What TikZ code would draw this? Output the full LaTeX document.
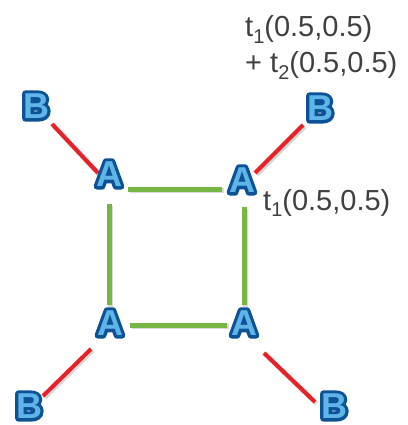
\documentclass[tikz,border=0pt]{standalone}
\usepackage{fontspec}
\setmainfont{Liberation Sans}
\usetikzlibrary{calc,backgrounds}
\definecolor{lblue}{RGB}{95,180,232}
\definecolor{dblue}{RGB}{14,82,150}
\definecolor{myred}{RGB}{232,32,40}
\definecolor{mygreen}{RGB}{118,182,68}
\definecolor{txtgray}{RGB}{64,64,64}
\newcommand{\strokeon}{\special{pdf:literal direct 2 Tr 1 j 6.5 w}}
\newcommand{\strokeoff}{\special{pdf:literal direct 0 Tr}}
\newcommand{\subs}[1]{\raisebox{-0.22em}{\fontsize{20}{20}\selectfont #1}}
\newcommand{\letternode}[3]{%
  \node[outerlet] (#1) at (#2) {\strokeon #3\strokeoff};
  \node[innerlet] (#1f) at (#1) {#3};}
\begin{document}
\begin{tikzpicture}[x=1pt,y=-1pt,
  letter/.style={font=\bfseries\fontsize{36}{36}\selectfont, inner sep=0pt},
  outerlet/.style={letter, text=dblue},
  innerlet/.style={letter, text=lblue},
  gline/.style={draw=mygreen, line width=5pt},
  rline/.style={draw=myred, line width=4pt},
  shad/.style={draw=black, opacity=0.15, line width=5pt, transform canvas={shift={(1.5pt,-1.5pt)}}},
  lbl/.style={font=\fontsize{29}{29}\selectfont, text=txtgray, inner sep=0pt, anchor=base west}]
\path[use as bounding box] (0,0) rectangle (407,425);
\letternode{A1}{109,174}{A}
\letternode{A2}{242,180}{A}
\letternode{A3}{110,323}{A}
\letternode{A4}{244,323}{A}
\letternode{B1}{36,106}{B}
\letternode{B2}{320,108}{B}
\letternode{B3}{29,406}{B}
\letternode{B4}{334,406}{B}
\node[lbl] (T1) at (245,37) {t\subs{1}(0.5,0.5)};
\node[lbl] (T2) at (245,73) {+ t\subs{2}(0.5,0.5)};
\node[lbl] (T3) at (263,210) {t\subs{1}(0.5,0.5)};
\begin{pgfonlayer}{background}
\foreach \s in {shad,gline}{
  \draw[\s] ($(A1)+(19,15)$) -- ($(A2)+(-20,9)$);
  \draw[\s] ($(A1)+(0,30)$) -- ($(A3)+(-1,-18)$);
  \draw[\s] ($(A2)+(2,27)$) -- ($(A4)+(0,-18)$);
  \draw[\s] ($(A3)+(20,2)$) -- ($(A4)+(-17,2)$);
}
\foreach \s in {shad,rline}{
  \draw[\s] ($(B1)+(16,18)$) -- ($(A1)+(-11,-1)$);
  \draw[\s] ($(B2)+(-17,17)$) -- ($(A2)+(13,-7)$);
  \draw[\s] ($(A3)+(-19,26)$) -- ($(B3)+(14,-10)$);
  \draw[\s] ($(A4)+(20,30)$) -- ($(B4)+(-19,-4)$);
}
\end{pgfonlayer}
\end{tikzpicture}
\end{document}
